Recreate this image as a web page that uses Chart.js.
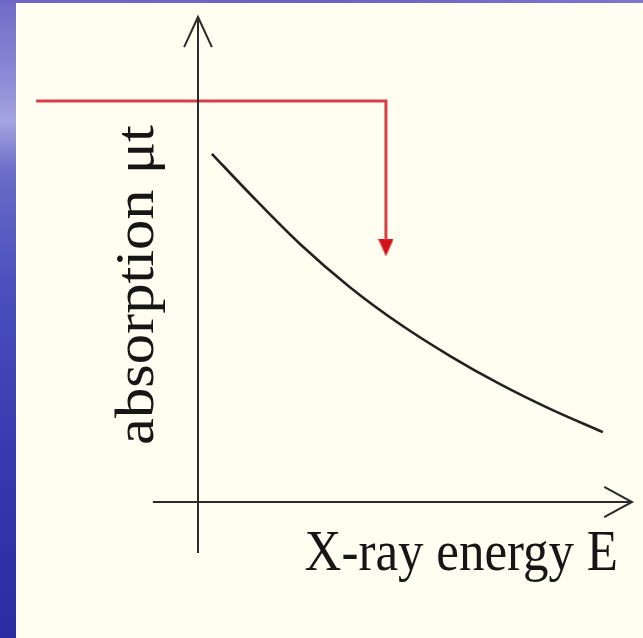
<!DOCTYPE html>
<html>
<head>
<meta charset="utf-8">
<script src="https://cdn.jsdelivr.net/npm/chart.js@4.4.0/dist/chart.umd.min.js"></script>
<style>
  html, body { margin: 0; padding: 0; background: #fffef2; }
  #wrap { width: 643px; height: 638px; }
</style>
</head>
<body>
<div id="wrap"><canvas id="c" width="643" height="638"></canvas></div>
<script>
// Absorption curve: X-ray energy E (arbitrary units) vs absorption mu*t
const energy     = [0.32, 1.20, 2.35, 3.50, 4.65, 5.81, 6.96, 8.11, 9.33];
const absorption = [7.18, 6.35, 5.32, 4.43, 3.67, 3.01, 2.43, 1.92, 1.44];

// Axis extents (axes cross at the origin, overshooting slightly below/left of it)
const xAxisRange = [-1.04, 10];
const yAxisRange = [-1.05, 10];

// Incident beam arrow: comes in from the left at this level, turns down at this energy
const beamLevel  = 8.27;
const beamEnergy = 4.33;
const beamStops  = 5.40;
const beamStart  = -3.73;
const beamTip    = 5.24;

const xLabel = 'X-ray energy E';
const yLabel = 'absorption \u03BCt';

const curvePoints = energy.map((e, i) => ({ x: e, y: absorption[i] }));

// Red filled arrowhead used as the point style at the end of the beam line
function makeArrowHead(w, h, color) {
  const cv = document.createElement('canvas');
  cv.width = w; cv.height = h;
  const g = cv.getContext('2d');
  g.fillStyle = color;
  g.beginPath();
  g.moveTo(0, 0);
  g.lineTo(w, 0);
  g.lineTo(w / 2, h);
  g.closePath();
  g.fill();
  return cv;
}
const arrowHead = makeArrowHead(15, 17, '#d4121c');

const axisColor = '#2b2b2b';
const wingX = 0.32, wingY = 0.62;   // chevron wing size, in axis units

const backdrop = {
  id: 'backdrop',
  beforeDraw(chart) {
    const ctx = chart.ctx;
    const W = chart.width, H = chart.height;
    ctx.save();
    const g = ctx.createLinearGradient(0, 0, 0, H);
    g.addColorStop(0.00, '#6e6cc6');
    g.addColorStop(0.12, '#8a8ad6');
    g.addColorStop(0.19, '#a4a4e0');
    g.addColorStop(0.27, '#6a6cc8');
    g.addColorStop(0.45, '#4a4fbd');
    g.addColorStop(0.75, '#3437ad');
    g.addColorStop(1.00, '#2a2ca4');
    ctx.fillStyle = g;
    ctx.fillRect(0, 0, W, H);
    const t = ctx.createLinearGradient(0, 0, W, 0);
    t.addColorStop(0, '#7068c4');
    t.addColorStop(0.5, '#6a62c0');
    t.addColorStop(1, '#7c78cc');
    ctx.fillStyle = t;
    ctx.fillRect(0, 0, W, 4);
    ctx.fillStyle = '#fffef0';
    ctx.fillRect(16, 3, W - 16, H - 3);
    ctx.restore();
  }
};

const axisLabels = {
  id: 'axisLabels',
  afterDatasetsDraw(chart) {
    const ctx = chart.ctx;
    const xs = chart.scales.x, ys = chart.scales.y;
    ctx.save();
    ctx.fillStyle = '#161616';
    ctx.textBaseline = 'alphabetic';

    // horizontal axis title, right-aligned under the arrow
    ctx.save();
    ctx.translate(xs.getPixelForValue(10) - 14, ys.getPixelForValue(0) + 68);
    ctx.scale(1, 1.1);
    ctx.font = '51px "Liberation Serif", "Times New Roman", serif';
    ctx.textAlign = 'right';
    ctx.fillText(xLabel, 0, 0);
    ctx.restore();

    // vertical axis title, reading bottom to top, left of the axis
    ctx.save();
    ctx.translate(xs.getPixelForValue(0) - 45, 285);
    ctx.rotate(-Math.PI / 2);
    ctx.scale(1.1, 1);
    ctx.font = '55px "Liberation Serif", "Times New Roman", serif';
    ctx.textAlign = 'center';
    ctx.fillText(yLabel, 0, 0);
    ctx.restore();

    ctx.restore();
  }
};

const lineDefaults = {
  showLine: true, pointRadius: 0, clip: false, fill: false,
  borderColor: axisColor, borderWidth: 2, tension: 0
};

new Chart(document.getElementById('c'), {
  type: 'scatter',
  data: {
    datasets: [
      Object.assign({}, lineDefaults, {
        label: 'x axis',
        data: [{ x: xAxisRange[0], y: 0 }, { x: xAxisRange[1], y: 0 }]
      }),
      Object.assign({}, lineDefaults, {
        label: 'x arrow',
        data: [{ x: xAxisRange[1] - wingX * 2, y: wingY / 2 },
               { x: xAxisRange[1], y: 0 },
               { x: xAxisRange[1] - wingX * 2, y: -wingY / 2 }]
      }),
      Object.assign({}, lineDefaults, {
        label: 'y axis',
        data: [{ x: 0, y: yAxisRange[0] }, { x: 0, y: yAxisRange[1] }]
      }),
      Object.assign({}, lineDefaults, {
        label: 'y arrow',
        data: [{ x: -wingX, y: yAxisRange[1] - wingY },
               { x: 0, y: yAxisRange[1] },
               { x: wingX, y: yAxisRange[1] - wingY }]
      }),
      Object.assign({}, lineDefaults, {
        label: 'beam',
        data: [{ x: beamStart, y: beamLevel },
               { x: beamEnergy, y: beamLevel },
               { x: beamEnergy, y: beamStops }],
        borderColor: 'rgba(214, 52, 60, 0.95)',
        borderWidth: 3,
        borderJoinStyle: 'miter'
      }),
      {
        label: 'beam head',
        data: [{ x: beamEnergy, y: beamTip }],
        showLine: false, clip: false,
        pointStyle: arrowHead, pointRadius: 8
      },
      Object.assign({}, lineDefaults, {
        label: 'absorption',
        data: curvePoints,
        borderColor: '#222222',
        borderWidth: 2.6,
        cubicInterpolationMode: 'monotone'
      })
    ]
  },
  options: {
    responsive: false,
    animation: false,
    events: [],
    layout: { padding: { left: 198, right: 11, top: 17, bottom: 136 } },
    scales: {
      x: { type: 'linear', min: 0, max: 10, display: false },
      y: { type: 'linear', min: 0, max: 10, display: false }
    },
    plugins: {
      legend: { display: false },
      tooltip: { enabled: false },
      title: { display: false }
    }
  },
  plugins: [backdrop, axisLabels]
});
</script>
</body>
</html>
